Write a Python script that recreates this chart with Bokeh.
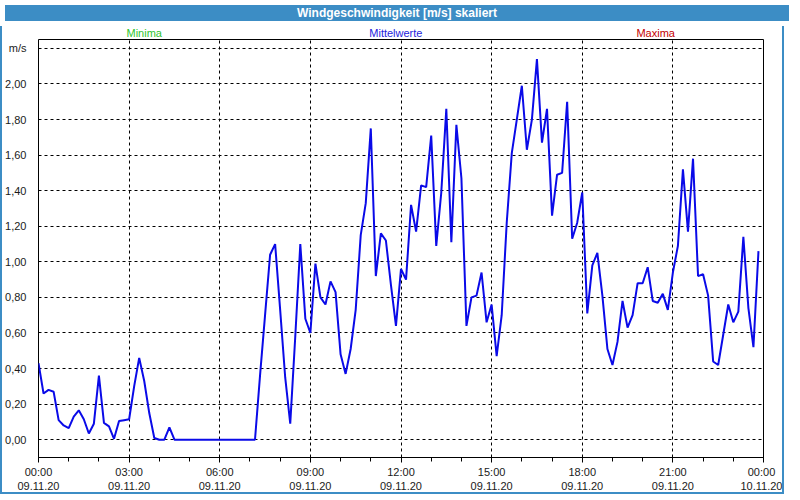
from bokeh.plotting import figure
from bokeh.models import Range1d, FixedTicker, Div
from bokeh.layouts import column
from bokeh.core.properties import value
from bokeh.embed import file_html
from bokeh.resources import INLINE

title_text = "Windgeschwindigkeit [m/s] skaliert"
series_names = ["Minima", "Mittelwerte", "Maxima"]
series_colors = ["#2ec42e", "#2424dc", "#c40000"]
series_label_hours = [3.5, 11.83, 20.43]

step_minutes = 10
# wind speed, m/s, one value every 10 minutes from 09.11.20 00:00
speed = [
    0.43, 0.26, 0.28, 0.27, 0.11, 0.08,
    0.065, 0.13, 0.165, 0.115, 0.035, 0.09,
    0.36, 0.095, 0.075, 0.005, 0.105, 0.11,
    0.115, 0.30, 0.46, 0.33, 0.15, 0.01,
    0.0, 0.0, 0.07, 0.0, 0.0, 0.0,
    0.0, 0.0, 0.0, 0.0, 0.0, 0.0,
    0.0, 0.0, 0.0, 0.0, 0.0, 0.0,
    0.0, 0.0, 0.36, 0.70, 1.04, 1.10,
    0.73, 0.35, 0.09, 0.58, 1.10, 0.68,
    0.60, 0.99, 0.80, 0.76, 0.89, 0.83,
    0.48, 0.37, 0.51, 0.73, 1.15, 1.33,
    1.75, 0.92, 1.16, 1.12, 0.87, 0.64,
    0.96, 0.90, 1.32, 1.17, 1.43, 1.42,
    1.71, 1.09, 1.39, 1.86, 1.11, 1.77,
    1.47, 0.64, 0.80, 0.81, 0.94, 0.66,
    0.76, 0.47, 0.70, 1.22, 1.61, 1.80,
    1.99, 1.63, 1.80, 2.14, 1.67, 1.86,
    1.26, 1.49, 1.50, 1.90, 1.13, 1.22,
    1.39, 0.71, 0.98, 1.05, 0.81, 0.51,
    0.42, 0.55, 0.78, 0.63, 0.70, 0.88,
    0.88, 0.97, 0.78, 0.77, 0.82, 0.73,
    0.94, 1.09, 1.52, 1.17, 1.58, 0.92,
    0.93, 0.81, 0.44, 0.42, 0.59, 0.76,
    0.66, 0.72, 1.14, 0.74, 0.52, 1.06,
]
hours = [i * step_minutes / 60 for i in range(len(speed))]

x_ticks = [0, 3, 6, 9, 12, 15, 18, 21, 24]
x_minor_ticks = list(range(25))
x_tick_times = ["00:00", "03:00", "06:00", "09:00", "12:00", "15:00", "18:00", "21:00", "00:00"]
x_tick_dates = ["09.11.20"] * 8 + ["10.11.20"]

y_ticks = [0.0, 0.2, 0.4, 0.6, 0.8, 1.0, 1.2, 1.4, 1.6, 1.8, 2.0, 2.2]
y_tick_labels = ["0,00", "0,20", "0,40", "0,60", "0,80", "1,00", "1,20",
                 "1,40", "1,60", "1,80", "2,00", "m/s"]

BAR = "#3c8dc5"
FONT = "Liberation Sans"
ML, MR = 32, 23
side_border = {"border-left": f"2px solid {BAR}", "border-right": f"2px solid {BAR}"}

x_range = Range1d(0, 24)

# strip with the series names above the plot frame
top = figure(width=784, height=12, x_range=x_range, y_range=Range1d(-1, 1),
             output_backend="svg", toolbar_location=None,
             min_border_left=ML, min_border_right=MR, min_border_top=0, min_border_bottom=0,
             background_fill_color="white", border_fill_color="white")
top.styles = side_border
top.axis.visible = False
top.grid.visible = False
top.outline_line_color = None
top.text(x=series_label_hours, y=[0, 0, 0], text=series_names, text_color=series_colors,
         text_align="center", text_baseline="middle",
         text_font=value(FONT), text_font_size="11px")

p = figure(width=784, height=456, x_range=x_range, y_range=Range1d(-0.1, 2.25),
           output_backend="svg", toolbar_location=None,
           min_border_left=ML, min_border_right=MR, min_border_top=1, min_border_bottom=0,
           background_fill_color="white", border_fill_color="white")
p.styles = dict(side_border, **{"border-bottom": f"2px solid {BAR}"})
p.outline_line_color = "black"
p.outline_line_width = 1

p.xaxis.ticker = FixedTicker(ticks=x_ticks, minor_ticks=x_minor_ticks)
p.xaxis.major_label_overrides = {t: f"{a}\n{b}" for t, a, b in zip(x_ticks, x_tick_times, x_tick_dates)}
p.xaxis.major_tick_in = 0
p.xaxis.major_tick_out = 5
p.xaxis.minor_tick_in = 0
p.xaxis.minor_tick_out = 4
p.xaxis.axis_line_color = "black"
p.xaxis.major_tick_line_color = "black"
p.xaxis.minor_tick_line_color = "black"
p.xaxis.major_label_standoff = 3

p.yaxis.ticker = FixedTicker(ticks=y_ticks)
p.yaxis.major_label_overrides = {t: s for t, s in zip(y_ticks, y_tick_labels)}
p.yaxis.axis_line_color = None
p.yaxis.major_tick_line_color = None
p.yaxis.minor_tick_line_color = None
p.yaxis.major_label_standoff = 6

for ax in (p.xaxis[0], p.yaxis[0]):
    ax.major_label_text_font = FONT
    ax.major_label_text_font_size = "11px"
    ax.major_label_text_color = "#1a1a1a"

p.xgrid.ticker = FixedTicker(ticks=x_ticks)
p.ygrid.ticker = FixedTicker(ticks=y_ticks)
for g in (p.xgrid[0], p.ygrid[0]):
    g.grid_line_color = "black"
    g.grid_line_dash = "3 3"
    g.grid_line_width = 1

p.line(hours, speed, line_color="#0a0ae8", line_width=2)

title = Div(text=title_text, width=784, height=16,
            styles={"background-color": BAR, "color": "white", "font-family": FONT,
                    "font-size": "12px", "font-weight": "bold", "text-align": "center",
                    "line-height": "16px"})

layout = column(title, top, p, spacing=0)
open("out.html", "w").write(file_html(layout, INLINE))
